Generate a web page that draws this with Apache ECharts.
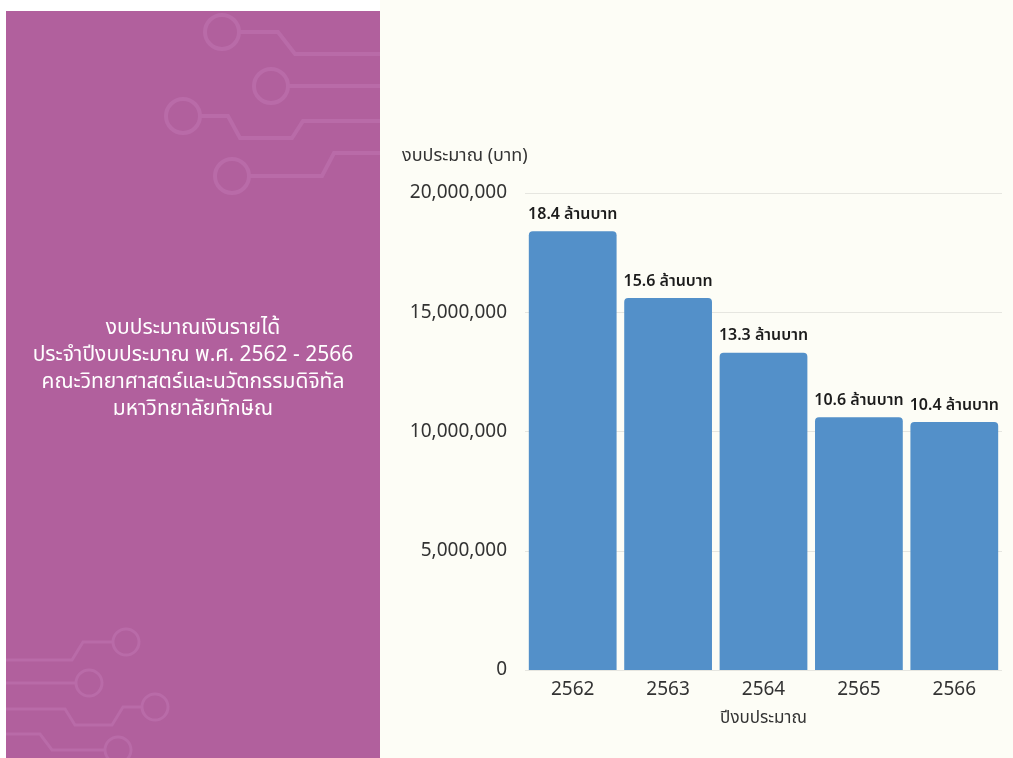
<!DOCTYPE html>
<html>
<head>
<meta charset="utf-8">
<script src="https://cdn.jsdelivr.net/npm/echarts@6/dist/echarts.min.js"></script>
<style>
  html, body { margin: 0; padding: 0; background: #ffffff; }
  #chart { width: 1013px; height: 758px; }
</style>
</head>
<body>
<div id="chart"></div>
<script>
// Budget years (Buddhist era) and income budget in baht
const years = ['2562', '2563', '2564', '2565', '2566'];
const budgets = [18400000, 15600000, 13300000, 10600000, 10400000];
const yTicks = [0, 5000000, 10000000, 15000000, 20000000];
const titleLines = [
  'งบประมาณเงินรายได้',
  'ประจำปีงบประมาณ พ.ศ. 2562 - 2566',
  'คณะวิทยาศาสตร์และนวัตกรรมดิจิทัล',
  'มหาวิทยาลัยทักษิณ'
];
const yAxisTitle = 'งบประมาณ (บาท)';
const xAxisTitle = 'ปีงบประมาณ';
const unitText = 'ล้านบาท';

const FONT = "'Noto Sans', 'Noto Sans Thai', 'Loma', 'Garuda', sans-serif";
const TRACE = '#b96ba8';

// Decorative circuit traces on the purple side panel
function trace(points, w) {
  return { type: 'polyline', silent: true, z: 1,
    shape: { points: points },
    style: { stroke: TRACE, lineWidth: w, fill: null } };
}
function node(cx, cy, r, w) {
  return { type: 'circle', silent: true, z: 1,
    shape: { cx: cx, cy: cy, r: r },
    style: { stroke: TRACE, lineWidth: w, fill: null } };
}

const decor = [
  // upper traces
  node(222, 32, 17, 4),
  trace([[240, 32], [278, 32], [295, 54], [380, 54]], 4),
  node(271, 86, 17, 4),
  trace([[289, 86], [380, 86]], 4),
  node(183, 116, 17, 4),
  trace([[201, 116], [228, 116], [240, 138], [292, 138], [303, 121], [380, 121]], 4),
  node(232, 176, 17, 4),
  trace([[250, 176], [322, 176], [334, 153], [380, 153]], 4),
  // lower traces
  node(126, 642, 13, 3),
  trace([[113, 642], [83, 642], [72, 660], [6, 660]], 3),
  node(89, 683, 13, 3),
  trace([[76, 683], [6, 683]], 3),
  node(155, 707, 13, 3),
  trace([[142, 707], [123, 707], [112, 725], [75, 725], [65, 709], [6, 709]], 3),
  node(118, 750, 13, 3),
  trace([[6, 734], [40, 734], [52, 750], [105, 750]], 3)
];

const chart = echarts.init(document.getElementById('chart'), null, { renderer: 'canvas' });

chart.setOption({
  animation: false,
  backgroundColor: '#ffffff',
  textStyle: { fontFamily: FONT },
  graphic: [
    { type: 'rect', silent: true, z: 0,
      shape: { x: 380, y: 0, width: 633, height: 758 },
      style: { fill: '#fdfdf6' } },
    { type: 'rect', silent: true, z: 0,
      shape: { x: 6, y: 11, width: 374, height: 747 },
      style: { fill: '#b1609d' } },
    ...decor,
    { type: 'text', silent: true, z: 2,
      x: 193, y: 315,
      style: {
        text: titleLines.join('\n'),
        fill: '#ffffff',
        font: '21px ' + FONT,
        align: 'center',
        verticalAlign: 'top',
        lineHeight: 27
      } },
    { type: 'text', silent: true, z: 2,
      x: 402, y: 156,
      style: {
        text: yAxisTitle,
        fill: '#333333',
        font: '18px ' + FONT,
        align: 'left',
        verticalAlign: 'middle'
      } }
  ],
  grid: { left: 525, right: 11, top: 193, bottom: 88, containLabel: false },
  xAxis: {
    type: 'category',
    data: years,
    name: xAxisTitle,
    nameLocation: 'middle',
    nameGap: 40,
    nameTextStyle: { fontSize: 17, color: '#333333', fontFamily: FONT },
    axisLine: { show: false },
    axisTick: { show: false },
    axisLabel: { fontSize: 19, color: '#333333', margin: 10, fontFamily: FONT }
  },
  yAxis: {
    type: 'value',
    min: yTicks[0],
    max: yTicks[yTicks.length - 1],
    interval: yTicks[1] - yTicks[0],
    axisLine: { show: false },
    axisTick: { show: false },
    splitLine: { lineStyle: { color: '#e6e6e0', width: 1 } },
    axisLabel: {
      fontSize: 19, color: '#333333', margin: 18, fontFamily: FONT,
      formatter: v => v.toLocaleString('en-US')
    }
  },
  series: [{
    type: 'bar',
    data: budgets,
    barCategoryGap: '8%',
    itemStyle: { color: '#5390c9', borderRadius: [4, 4, 0, 0] },
    label: {
      show: true,
      position: 'top',
      distance: 9,
      fontSize: 16,
      fontWeight: 600,
      color: '#1c1c1c',
      fontFamily: FONT,
      formatter: p => (p.value / 1e6).toFixed(1) + ' ' + unitText
    }
  }]
});
</script>
</body>
</html>
